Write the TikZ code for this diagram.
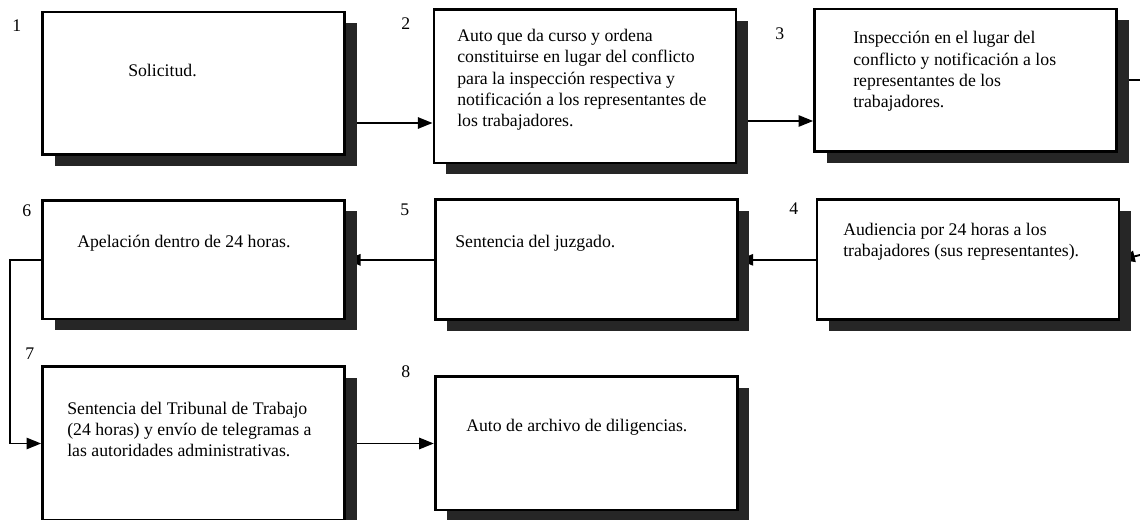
\documentclass[tikz,border=0pt]{standalone}
\usepackage{fontspec}
\setmainfont{Liberation Serif}
\usetikzlibrary{positioning,arrows.meta,shadows,backgrounds}

\begin{document}
\begin{tikzpicture}[x=0.75pt, y=-0.75pt, >={Triangle[length=11pt,width=8.5pt]}, font=\fontsize{13.3}{16}\selectfont]
\tikzstyle{box}=[
    draw, line width=2pt,
    fill=white,
    minimum width=226.5pt,
    drop shadow={shadow xshift=9pt, shadow yshift=-8.25pt, fill=black!85, opacity=1}
]
\tikzstyle{txt}=[anchor=base west, inner sep=0pt, align=left]
\tikzstyle{num}=[anchor=base west, inner sep=0pt]
\tikzstyle{line}=[line width=1.4pt]

\useasboundingbox (0,0) rectangle (1140,520);

% fila superior
\node[box, minimum height=107pt] (sol) at (193.5,83.5) {};
\node[box, minimum height=115pt, right=65pt of sol, yshift=-2.25pt] (auto) {};
\node[box, minimum height=107pt, right=57pt of auto, yshift=4.5pt] (insp) {};

% fila media
\node[box, minimum height=89pt, below=32.25pt of sol] (apel) {};
\node[box, minimum height=90pt, right=66pt of apel] (sent) {};
\node[box, minimum height=90pt, right=57.75pt of sent] (aud) {};

% fila inferior
\node[box, minimum height=115pt, below=33.75pt of apel] (trib) {};
\node[box, minimum height=100pt, right=66pt of trib] (arch) {};

% textos (base = ultima linea)
\node[txt] (tsol) at (128,77) {Solicitud.};
\node[txt] (tauto) at (457,127) {Auto que da curso y ordena\\constituirse en lugar del conflicto\\para la inspección respectiva y\\notificación a los representantes de\\los trabajadores.};
\node[txt] (tinsp) at (853,108) {Inspección en el lugar del\\conflicto y notificación a los\\representantes de los\\trabajadores.};
\node[txt] (tapel) at (77,248) {Apelación dentro de 24 horas.};
\node[txt] (tsent) at (455,248) {Sentencia del juzgado.};
\node[txt] (taud) at (843,257) {Audiencia por 24 horas a los\\trabajadores (sus representantes).};
\node[txt] (ttrib) at (67,457) {Sentencia del Tribunal de Trabajo\\(24 horas) y envío de telegramas a\\las autoridades administrativas.};
\node[txt] (tarch) at (466,432) {Auto de archivo de diligencias.};

% numeros de paso
\node[num] (n1) at (12,32) {1};
\node[num] (n2) at (401,30) {2};
\node[num] (n3) at (775,40) {3};
\node[num] (n4) at (789,215) {4};
\node[num] (n5) at (400,216) {5};
\node[num] (n6) at (22,217) {6};
\node[num] (n7) at (25,360) {7};
\node[num] (n8) at (401,378) {8};

\coordinate (fuera3) at (1140,80);
\coordinate (fuera4) at (1140,255);

\begin{scope}[on background layer]
\draw[line, ->] (sol.east |- 0,123) -- (auto.west |- 0,123);
\draw[line, ->] (auto.east |- 0,121) -- (insp.west |- 0,121);
\draw[line] (insp.east |- fuera3) -- (fuera3);
\draw[line, ->] (fuera4) -- (aud.east);
\draw[line, ->] (aud.west) -- (sent.east);
\draw[line, ->] (sent.west) -- (apel.east);
\draw[line, ->] (apel.west) -- ++(-31,0) |- (trib.west);
\draw[line, ->] (trib.east) -- (trib.east -| arch.west);
\end{scope}
\end{tikzpicture}
\end{document}
